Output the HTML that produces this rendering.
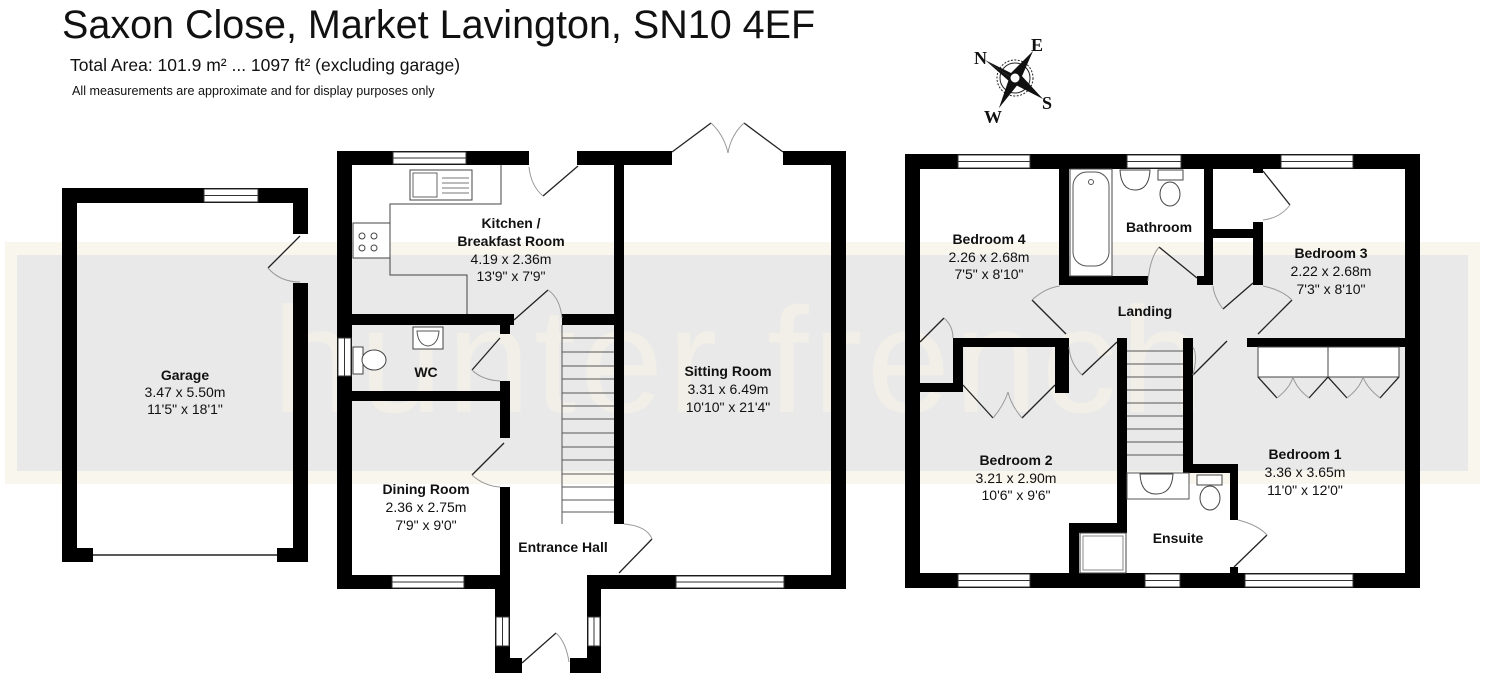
<!DOCTYPE html>
<html><head><meta charset="utf-8"><style>
html,body{margin:0;padding:0;background:#fff;}
svg{display:block;}
text{font-family:"Liberation Sans",Arial,sans-serif;}
text.sf{font-family:"Liberation Serif","DejaVu Serif",serif;font-weight:bold;font-size:18px;fill:#111;}
.b{font-weight:bold;font-size:14px;text-anchor:middle;fill:#111;}
.m{font-size:14px;text-anchor:middle;fill:#111;}
.d{fill:none;stroke:#222;stroke-width:1.3;}
.a{fill:none;stroke:#999;stroke-width:1;}
.f{fill:#fff;stroke:#333;stroke-width:1;}
</style></head><body>
<svg width="1489" height="680" viewBox="0 0 1489 680" xmlns="http://www.w3.org/2000/svg">
<rect width="1489" height="680" fill="#fff"/>
<!-- watermark band -->
<rect x="5" y="242" width="1475" height="242" fill="#f9f6ee"/>
<rect x="17" y="255" width="1451" height="216" fill="#e9e9e9"/>
<text x="740" y="412" font-size="150" fill="#f1efe7" text-anchor="middle" letter-spacing="4">hunter french</text>

<!-- titles -->
<text x="62" y="38" font-size="39.5" fill="#111">Saxon Close, Market Lavington, SN10 4EF</text>
<text x="70" y="71" font-size="17.5" fill="#111">Total Area: 101.9 m² ... 1097 ft² (excluding garage)</text>
<text x="72" y="95" font-size="12.6" fill="#111">All measurements are approximate and for display purposes only</text>

<!-- compass -->
<g transform="translate(1015,78)">
<circle r="15" fill="none" stroke="#222" stroke-width="1"/>
<circle r="18" fill="none" stroke="#222" stroke-width="1" stroke-dasharray="2,1.5"/>
<polygon points="-30,-18 -4,-5 4,5" fill="#111"/>
<polygon points="-30,-18 -5,4 4,5" fill="#111"/>
<polygon points="18,-27 5,-4 -5,4" fill="#111"/>
<polygon points="18,-27 -4,-5 4,5" fill="#111"/>
<polygon points="-16,30 -5,4 5,-4" fill="#111"/>
<polygon points="-16,30 4,5 -4,-5" fill="#111"/>
<polygon points="28,21 4,5 -4,-5" fill="#111"/>
<polygon points="28,21 5,-4 -5,4" fill="#111"/>
<circle r="5" fill="#fff" stroke="#111"/>
<text x="-41" y="-14" class="sf">N</text>
<text x="16" y="-27" class="sf">E</text>
<text x="-31" y="45" class="sf">W</text>
<text x="27" y="31" class="sf">S</text>
</g>

<!-- GARAGE -->
<g fill="#000">
<rect x="62" y="188" width="246" height="15"/>
<rect x="62" y="188" width="15" height="374"/>
<rect x="293" y="188" width="15" height="46"/>
<rect x="293" y="283" width="15" height="279"/>
<rect x="62" y="548" width="31" height="14"/>
<rect x="277" y="548" width="31" height="14"/>
</g>
<rect x="204" y="189" width="54" height="13" class="f"/>
<line x1="204" y1="195.5" x2="258" y2="195.5" stroke="#333"/>
<line x1="93" y1="555" x2="277" y2="555" stroke="#222" stroke-width="1.5"/>
<line x1="300" y1="236" x2="268" y2="268" class="d"/>
<path d="M268,268 Q280,282 300,282" class="a"/>
<text x="185" y="380" class="b">Garage</text>
<text x="185" y="397" class="m">3.47 x 5.50m</text>
<text x="185" y="414" class="m">11'5" x 18'1"</text>

<!-- GROUND FLOOR -->
<g fill="#000">
<rect x="337" y="151" width="192" height="14"/>
<rect x="577" y="151" width="95" height="14"/>
<rect x="783" y="151" width="63" height="14"/>
<rect x="337" y="151" width="15" height="438"/>
<rect x="831" y="151" width="15" height="438"/>
<rect x="614" y="151" width="10" height="373"/>
<rect x="352" y="314" width="162" height="11"/>
<rect x="562" y="314" width="52" height="11"/>
<rect x="500" y="314" width="10" height="20"/>
<rect x="500" y="381" width="10" height="57"/>
<rect x="500" y="487" width="10" height="102"/>
<rect x="352" y="391" width="158" height="10"/>
<rect x="337" y="575" width="173" height="14"/>
<rect x="495" y="575" width="15" height="98"/>
<rect x="495" y="658" width="27" height="15"/>
<rect x="587" y="575" width="259" height="14"/>
<rect x="587" y="575" width="14" height="98"/>
<rect x="570" y="658" width="31" height="15"/>
</g>
<!-- windows ground -->
<rect x="393" y="152" width="73" height="12" class="f"/><line x1="393" y1="158" x2="466" y2="158" stroke="#333"/>
<rect x="392" y="576" width="72" height="12" class="f"/><line x1="392" y1="582" x2="464" y2="582" stroke="#333"/>
<rect x="676" y="576" width="108" height="12" class="f"/><line x1="676" y1="582" x2="784" y2="582" stroke="#333"/>
<rect x="338" y="338" width="13" height="38" class="f"/><line x1="344.5" y1="338" x2="344.5" y2="376" stroke="#333"/>
<rect x="496" y="617" width="13" height="29" class="f"/><line x1="502.5" y1="617" x2="502.5" y2="646" stroke="#333"/>
<rect x="588" y="617" width="12" height="29" class="f"/><line x1="594" y1="617" x2="594" y2="646" stroke="#333"/>
<!-- stairs ground -->
<g stroke="#555" stroke-width="1">
<line x1="562" y1="325" x2="562" y2="524"/>
<line x1="562" y1="338" x2="614" y2="338"/><line x1="562" y1="352" x2="614" y2="352"/><line x1="562" y1="366" x2="614" y2="366"/><line x1="562" y1="379" x2="614" y2="379"/><line x1="562" y1="393" x2="614" y2="393"/><line x1="562" y1="406" x2="614" y2="406"/><line x1="562" y1="419" x2="614" y2="419"/><line x1="562" y1="433" x2="614" y2="433"/><line x1="562" y1="447" x2="614" y2="447"/><line x1="562" y1="460" x2="614" y2="460"/><line x1="562" y1="474" x2="614" y2="474"/><line x1="562" y1="487" x2="614" y2="487"/><line x1="562" y1="500" x2="614" y2="500"/><line x1="562" y1="512" x2="614" y2="512"/>
</g>
<!-- kitchen fittings -->
<path d="M501,165 V204 H390 V275 H467 V314" fill="none" stroke="#444" stroke-width="1"/>
<rect x="410" y="170" width="62" height="30" fill="#fff" stroke="#444"/>
<rect x="413" y="173" width="24" height="24" fill="none" stroke="#666"/>
<g stroke="#777"><line x1="442" y1="178" x2="469" y2="178"/><line x1="442" y1="183" x2="469" y2="183"/><line x1="442" y1="188" x2="469" y2="188"/><line x1="442" y1="193" x2="469" y2="193"/></g>
<rect x="353" y="223" width="37" height="35" fill="#fff" stroke="#444"/>
<g fill="none" stroke="#444"><circle cx="362" cy="236" r="3"/><circle cx="374" cy="236" r="3"/><circle cx="362" cy="248" r="3"/><circle cx="374" cy="248" r="3"/></g>
<!-- WC fittings -->
<rect x="413" y="327" width="30" height="22" fill="#fff" stroke="#444"/>
<path d="M417,331 H439 Q438,345 428,346 Q418,345 417,331Z" fill="none" stroke="#555"/>
<rect x="353" y="347" width="10" height="27" fill="#fff" stroke="#444"/>
<ellipse cx="374" cy="360" rx="12" ry="10" fill="#fff" stroke="#444"/>
<!-- doors ground -->
<line x1="578" y1="166" x2="543" y2="196" class="d"/><path d="M529,167 Q531,186 543,196" class="a"/>
<path d="M672,152 L711,123" class="d"/><path d="M711,123 Q724,135 728,153" class="a"/>
<path d="M783,152 L744,123" class="d"/><path d="M744,123 Q731,135 728,153" class="a"/>
<line x1="514" y1="320" x2="548" y2="290" class="d"/><path d="M548,290 Q560,298 562,318" class="a"/>
<line x1="500" y1="338" x2="472" y2="370" class="d"/><path d="M472,370 Q482,380 500,381" class="a"/>
<line x1="504" y1="443" x2="472" y2="475" class="d"/><path d="M472,475 Q484,486 500,487" class="a"/>
<line x1="652" y1="539" x2="619" y2="573" class="d"/><path d="M624,524 Q647,526 652,539" class="a"/>
<line x1="522" y1="663" x2="556" y2="633" class="d"/><path d="M556,633 Q566,642 569,662" class="a"/>
<!-- labels ground -->
<text x="511" y="228" class="b">Kitchen /</text>
<text x="511" y="246" class="b">Breakfast Room</text>
<text x="511" y="264" class="m">4.19 x 2.36m</text>
<text x="511" y="281" class="m">13'9" x 7'9"</text>
<text x="426" y="377" class="b">WC</text>
<text x="728" y="376" class="b">Sitting Room</text>
<text x="728" y="394" class="m">3.31 x 6.49m</text>
<text x="728" y="412" class="m">10'10" x 21'4"</text>
<text x="426" y="494" class="b">Dining Room</text>
<text x="426" y="512" class="m">2.36 x 2.75m</text>
<text x="426" y="530" class="m">7'9" x 9'0"</text>
<text x="563" y="552" class="b">Entrance Hall</text>

<!-- FIRST FLOOR -->
<g fill="#000">
<rect x="905" y="154" width="515" height="15"/>
<rect x="905" y="154" width="15" height="434"/>
<rect x="1405" y="154" width="15" height="434"/>
<rect x="905" y="573" width="515" height="15"/>
<rect x="1059" y="169" width="10" height="116"/>
<rect x="1059" y="276" width="89" height="9"/>
<rect x="1204" y="169" width="9" height="116"/>
<rect x="1197" y="276" width="16" height="9"/>
<rect x="1253" y="222" width="10" height="63"/>
<rect x="1213" y="229" width="50" height="9"/>
<rect x="1253" y="169" width="10" height="4"/>
<rect x="1247" y="338" width="158" height="9"/>
<rect x="953" y="338" width="116" height="9"/>
<rect x="953" y="338" width="10" height="54"/>
<rect x="920" y="383" width="43" height="9"/>
<rect x="1055" y="338" width="14" height="55"/>
<rect x="1117" y="338" width="10" height="195"/>
<rect x="1069" y="523" width="58" height="10"/>
<rect x="1069" y="523" width="10" height="50"/>
<rect x="1183" y="338" width="10" height="135"/>
<rect x="1183" y="464" width="55" height="9"/>
<rect x="1230" y="464" width="8" height="56"/>
<rect x="1230" y="567" width="8" height="6"/>
</g>
<!-- windows first -->
<rect x="958" y="155" width="72" height="13" class="f"/><line x1="958" y1="161.5" x2="1030" y2="161.5" stroke="#333"/>
<rect x="1127" y="155" width="54" height="13" class="f"/><line x1="1127" y1="161.5" x2="1181" y2="161.5" stroke="#333"/>
<rect x="1281" y="155" width="72" height="13" class="f"/><line x1="1281" y1="161.5" x2="1353" y2="161.5" stroke="#333"/>
<rect x="958" y="574" width="72" height="13" class="f"/><line x1="958" y1="580.5" x2="1030" y2="580.5" stroke="#333"/>
<rect x="1145" y="574" width="35" height="13" class="f"/><line x1="1145" y1="580.5" x2="1180" y2="580.5" stroke="#333"/>
<rect x="1245" y="574" width="108" height="13" class="f"/><line x1="1245" y1="580.5" x2="1353" y2="580.5" stroke="#333"/>
<!-- stairs first -->
<g stroke="#555" stroke-width="1">
<line x1="1127" y1="351" x2="1183" y2="351"/><line x1="1127" y1="364" x2="1183" y2="364"/><line x1="1127" y1="377" x2="1183" y2="377"/><line x1="1127" y1="390" x2="1183" y2="390"/><line x1="1127" y1="403" x2="1183" y2="403"/><line x1="1127" y1="416" x2="1183" y2="416"/><line x1="1127" y1="429" x2="1183" y2="429"/><line x1="1127" y1="442" x2="1183" y2="442"/><line x1="1127" y1="455" x2="1183" y2="455"/>
</g>
<!-- bathroom fittings -->
<rect x="1070" y="169" width="42" height="107" fill="#fff" stroke="#444"/>
<rect x="1073" y="172" width="36" height="94" rx="14" fill="none" stroke="#555"/>
<circle cx="1091" cy="182" r="2.5" fill="none" stroke="#555"/>
<path d="M1120,170 H1150 Q1149,190 1135,190 Q1121,190 1120,170Z" fill="#fff" stroke="#444"/>
<rect x="1158" y="170" width="25" height="10" fill="#fff" stroke="#444"/>
<ellipse cx="1170" cy="194" rx="10" ry="12" fill="#fff" stroke="#444"/>
<!-- ensuite fittings -->
<rect x="1127" y="473" width="62" height="26" fill="#fff" stroke="#555"/>
<path d="M1140,474 H1173 Q1172,494 1156,494 Q1141,494 1140,474Z" fill="#fff" stroke="#444"/>
<rect x="1197" y="475" width="25" height="10" fill="#fff" stroke="#444"/>
<ellipse cx="1210" cy="498" rx="10" ry="12" fill="#fff" stroke="#444"/>
<rect x="1080" y="533" width="46" height="40" fill="#fff" stroke="#444"/>
<rect x="1083" y="536" width="40" height="34" fill="none" stroke="#888"/>
<!-- wardrobes -->
<rect x="1258" y="347" width="70" height="30" fill="#fff" stroke="#444"/>
<rect x="1328" y="347" width="71" height="30" fill="#fff" stroke="#444"/>
<path d="M1258,377 L1277,398 M1328,377 L1309,398 M1328,377 L1347,398 M1399,377 L1380,398" class="d"/>
<path d="M1277,398 Q1290,388 1293,377 M1309,398 Q1296,388 1293,377 M1347,398 Q1360,388 1363,377 M1380,398 Q1367,388 1363,377" class="a"/>
<path d="M963,385 L993,418 M1055,385 L1022,418" class="d"/>
<path d="M993,418 Q1004,405 1008,392 M1022,418 Q1011,405 1008,392" class="a"/>
<!-- doors first -->
<line x1="1066" y1="334" x2="1032" y2="300" class="d"/><path d="M1032,300 Q1045,288 1060,286" class="a"/>
<line x1="1159" y1="247" x2="1197" y2="278" class="d"/><path d="M1148,281 Q1150,258 1159,247" class="a"/>
<line x1="1263" y1="171" x2="1290" y2="205" class="d"/><path d="M1290,205 Q1280,218 1263,220" class="a"/>
<line x1="1253" y1="283" x2="1223" y2="309" class="d"/><path d="M1223,309 Q1214,297 1213,286" class="a"/>
<line x1="1292" y1="300" x2="1258" y2="334" class="d"/><path d="M1263,286 Q1282,290 1292,300" class="a"/>
<line x1="1117" y1="342" x2="1082" y2="375" class="d"/><path d="M1082,375 Q1070,363 1069,347" class="a"/>
<line x1="1193" y1="375" x2="1227" y2="341" class="d"/><path d="M1193,375 Q1198,355 1193,347" class="a"/>
<line x1="920" y1="342" x2="944" y2="318" class="d"/><path d="M944,318 Q953,326 953,338" class="a"/>
<line x1="1234" y1="567" x2="1267" y2="535" class="d"/><path d="M1238,520 Q1258,525 1267,535" class="a"/>
<!-- labels first -->
<text x="989" y="244" class="b">Bedroom 4</text>
<text x="989" y="262" class="m">2.26 x 2.68m</text>
<text x="989" y="279" class="m">7'5" x 8'10"</text>
<text x="1159" y="232" class="b">Bathroom</text>
<text x="1331" y="258" class="b">Bedroom 3</text>
<text x="1331" y="276" class="m">2.22 x 2.68m</text>
<text x="1331" y="294" class="m">7'3" x 8'10"</text>
<text x="1145" y="316" class="b">Landing</text>
<text x="1016" y="465" class="b">Bedroom 2</text>
<text x="1016" y="483" class="m">3.21 x 2.90m</text>
<text x="1016" y="500" class="m">10'6" x 9'6"</text>
<text x="1305" y="459" class="b">Bedroom 1</text>
<text x="1305" y="477" class="m">3.36 x 3.65m</text>
<text x="1305" y="495" class="m">11'0" x 12'0"</text>
<text x="1178" y="543" class="b">Ensuite</text>
</svg>
</body></html>
